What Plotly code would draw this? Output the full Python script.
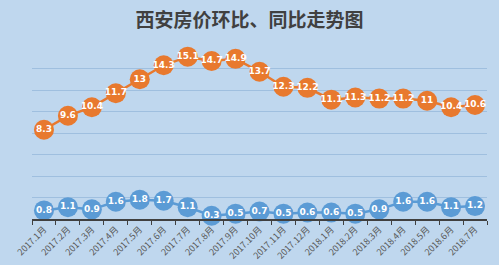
import plotly.graph_objects as go

categories = ["2017.1月", "2017.2月", "2017.3月", "2017.4月", "2017.5月", "2017.6月",
              "2017.7月", "2017.8月", "2017.9月", "2017.10月", "2017.11月", "2017.12月",
              "2018.1月", "2018.2月", "2018.3月", "2018.4月", "2018.5月", "2018.6月", "2018.7月"]
yoy = [8.3, 9.6, 10.4, 11.7, 13, 14.3, 15.1, 14.7, 14.9, 13.7, 12.3, 12.2,
       11.1, 11.3, 11.2, 11.2, 11, 10.4, 10.6]
mom = [0.8, 1.1, 0.9, 1.6, 1.8, 1.7, 1.1, 0.3, 0.5, 0.7, 0.5, 0.6,
       0.6, 0.5, 0.9, 1.6, 1.6, 1.1, 1.2]

orange = "#e8792e"
blue = "#5b9bd5"

fig = go.Figure()
for vals, col in [(yoy, orange), (mom, blue)]:
    fig.add_trace(go.Scatter(
        x=categories, y=vals, mode="lines+markers+text",
        line=dict(color=col, width=2.5),
        marker=dict(size=20, color=col, line=dict(width=0)),
        text=[str(v) for v in vals], textposition="middle center",
        textfont=dict(family="DejaVu Sans", size=9, color="white", weight="bold"),
        cliponaxis=False, showlegend=False, hoverinfo="skip"))

fig.update_layout(
    width=499, height=265,
    margin=dict(l=32, r=12, t=47, b=46),
    paper_bgcolor="#bfd7ee", plot_bgcolor="#bfd7ee",
    title=dict(text="西安房价环比、同比走势图", x=0.5, xanchor="center", y=0.925, yanchor="middle",
               font=dict(family="Noto Sans CJK SC", size=19, color="#404040", weight="bold")),
    xaxis=dict(type="category", showgrid=False, showline=True, linecolor="#404040", linewidth=1.5,
               ticks="outside", tickson="boundaries", ticklen=4, tickcolor="#404040",
               tickangle=-45, tickfont=dict(family="Noto Sans CJK SC", size=9, color="#595959"),
               range=[-0.5, 18.5], automargin=False),
    yaxis=dict(range=[0, 16], dtick=2, showgrid=True, gridcolor="#9fbfdf", gridwidth=1,
               showticklabels=False, zeroline=False, showline=False, automargin=False),
)
fig.write_html("out.html")
